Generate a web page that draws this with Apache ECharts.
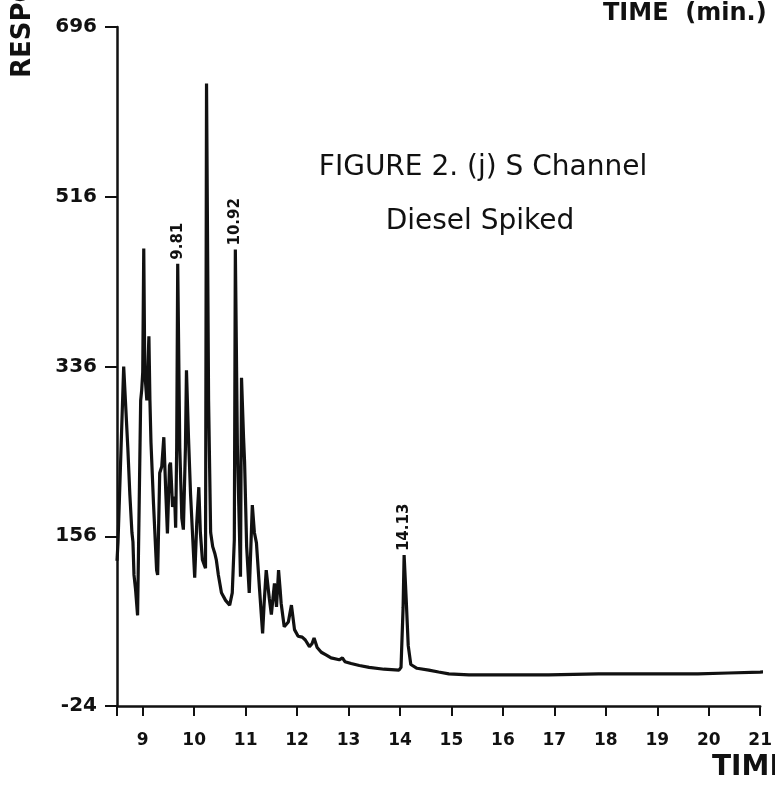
<!DOCTYPE html>
<html>
<head>
<meta charset="utf-8">
<script src="https://cdn.jsdelivr.net/npm/echarts@6/dist/echarts.min.js"></script>
<style>
html,body{margin:0;padding:0;background:#fff;}
#chart{width:775px;height:791px;}
</style>
</head>
<body>
<div id="chart"></div>
<script>
// Retention time (min)
var times = [8.50, 8.52, 8.63, 8.71, 8.75, 8.79, 8.81, 8.83, 8.86, 8.90,
  8.96, 8.98, 9.00, 9.02, 9.04, 9.08, 9.12, 9.14, 9.16, 9.21,
  9.27, 9.29, 9.33, 9.37, 9.41, 9.45, 9.48, 9.52, 9.54, 9.58,
  9.62, 9.64, 9.66, 9.68, 9.72, 9.76, 9.79, 9.83, 9.85, 9.89,
  9.93, 10.01, 10.05, 10.09, 10.12, 10.16, 10.20, 10.22, 10.24, 10.28,
  10.32, 10.36, 10.40, 10.43, 10.47, 10.53, 10.61, 10.69, 10.74, 10.78,
  10.80, 10.84, 10.88, 10.90, 10.92, 10.96, 10.98, 11.02, 11.07, 11.13,
  11.17, 11.21, 11.27, 11.33, 11.36, 11.40, 11.46, 11.50, 11.56, 11.60,
  11.64, 11.67, 11.69, 11.75, 11.83, 11.89, 11.95, 12.02, 12.10, 12.16,
  12.24, 12.29, 12.33, 12.39, 12.47, 12.57, 12.66, 12.82, 12.88, 12.93,
  13.05, 13.21, 13.40, 13.69, 13.98, 14.02, 14.06, 14.08, 14.12, 14.16,
  14.21, 14.33, 14.56, 14.75, 14.95, 15.34, 15.92, 16.89, 17.86, 18.83,
  19.79, 20.38, 21.00, 21.25];
// Detector response
var responses = [130, 150, 336, 250, 200, 160, 150, 115, 100, 72,
  300, 311, 330, 461, 330, 300, 368, 300, 256, 190,
  120, 115, 223, 230, 261, 200, 159, 231, 234, 187,
  198, 165, 250, 445, 250, 175, 163, 250, 332, 260,
  200, 112, 170, 208, 160, 131, 125, 122, 636, 300,
  160, 145, 138, 131, 115, 96, 88, 83, 96, 152,
  460, 250, 160, 113, 324, 260, 234, 145, 96, 189,
  160, 149, 100, 53, 85, 120, 90, 73, 106, 81,
  120, 100, 85, 60, 65, 83, 57, 50, 49, 46,
  39, 42, 48, 38, 33, 30, 27, 25, 27, 23,
  21, 19, 17, 15, 14, 17, 80, 136, 90, 40,
  20, 16, 14, 12, 10, 9, 9, 9, 10, 10,
  10, 11, 12, 13];
// Annotated peaks
var peakLabels = ['9.81', '10.92', '14.13'];
var peakTimes = [9.68, 10.80, 14.08];
var peakValues = [445, 460, 136];
// Axis ticks
var yMin = -24, yMax = 696, yStep = 180;
var xMin = 8.5, xMax = 21;

var traceData = times.map(function (t, i) { return [t, responses[i]]; });
var peakData = peakLabels.map(function (n, i) {
  return { name: n, coord: [peakTimes[i], peakValues[i]] };
});

var chart = echarts.init(document.getElementById('chart'), null, { renderer: 'canvas' });
var ink = '#111';
chart.setOption({
  backgroundColor: '#ffffff',
  animation: false,
  grid: { left: 117, right: 13, top: 27, bottom: 85, containLabel: false },
  xAxis: {
    type: 'value', min: xMin, max: xMax, minInterval: 1, maxInterval: 1, splitNumber: 12,
    axisLine: { show: true, onZero: false, lineStyle: { color: ink, width: 2.5 } },
    axisTick: { show: true, length: 10, lineStyle: { color: ink, width: 2 } },
    splitLine: { show: false },
    axisLabel: {
      margin: 26, color: ink, fontFamily: 'DejaVu Sans', fontWeight: 'bold', fontSize: 17,
      formatter: function (v) { return Math.abs(v - Math.round(v)) < 1e-6 ? String(Math.round(v)) : ''; }
    }
  },
  yAxis: {
    type: 'value', min: yMin, max: yMax, interval: yStep,
    axisLine: { show: true, onZero: false, lineStyle: { color: ink, width: 2.5 } },
    axisTick: { show: true, length: 12, lineStyle: { color: ink, width: 2 } },
    splitLine: { show: false },
    axisLabel: { margin: 20, color: ink, fontFamily: 'DejaVu Sans', fontWeight: 'bold', fontSize: 20 }
  },
  series: [{
    type: 'line',
    data: traceData,
    symbol: 'none',
    clip: false,
    lineStyle: { color: ink, width: 3.2 },
    markPoint: {
      symbol: 'circle', symbolSize: 0,
      data: peakData,
      label: {
        show: true, formatter: '{b}', position: [0, -4], rotate: 90,
        align: 'left', verticalAlign: 'middle',
        color: ink, fontFamily: 'DejaVu Sans', fontWeight: 'bold', fontSize: 15
      }
    }
  }],
  graphic: [
    { type: 'text', x: 483, y: 168, style: { text: 'FIGURE 2. (j) S Channel', fill: ink, font: '28px "DejaVu Sans"', textAlign: 'center', textVerticalAlign: 'middle' } },
    { type: 'text', x: 480, y: 222, style: { text: 'Diesel Spiked', fill: ink, font: '28px "DejaVu Sans"', textAlign: 'center', textVerticalAlign: 'middle' } },
    { type: 'text', x: 603, y: 14, style: { text: 'TIME  (min.)', fill: ink, font: 'bold 24px "DejaVu Sans"', textVerticalAlign: 'middle' } },
    { type: 'text', x: 712, y: 768, style: { text: 'TIME  (min.)', fill: ink, font: 'bold 28px "DejaVu Sans"', textVerticalAlign: 'middle' } },
    { type: 'text', x: 23, y: 78, rotation: Math.PI / 2, style: { text: 'RESPONSE', fill: ink, font: 'bold 26px "DejaVu Sans"', textVerticalAlign: 'middle', textAlign: 'left' } }
  ]
});
</script>
</body>
</html>
